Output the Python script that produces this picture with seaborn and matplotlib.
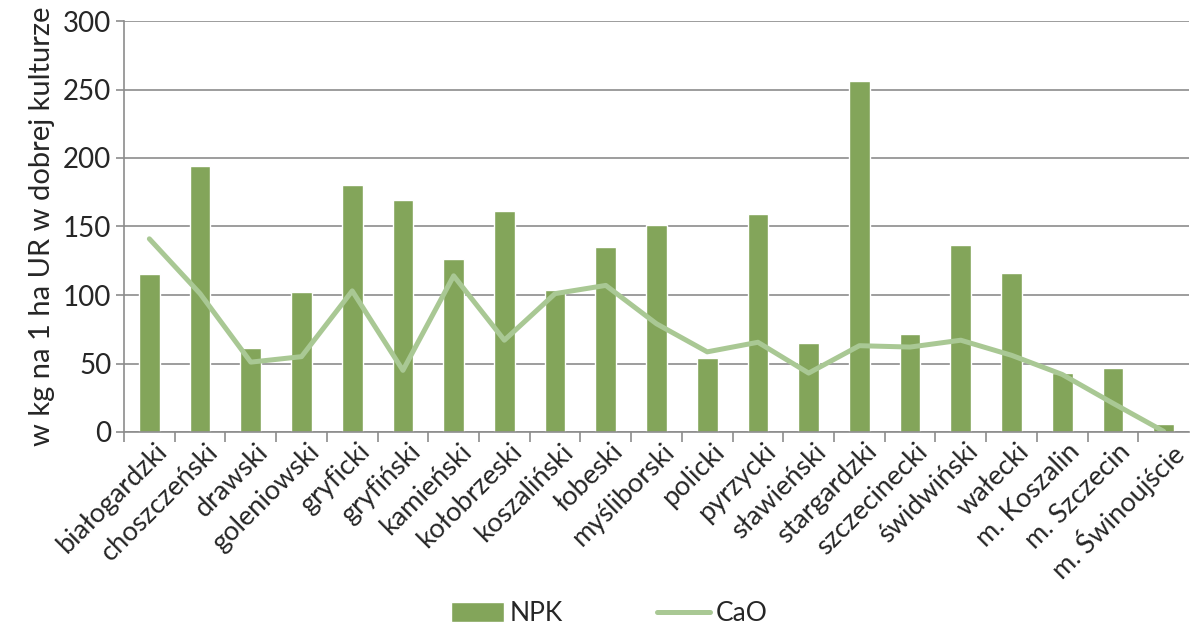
import numpy as np
import pandas as pd
import matplotlib
matplotlib.use("Agg")
import matplotlib.pyplot as plt
import matplotlib.transforms as mtransforms
import seaborn as sns
from matplotlib.patches import Patch
from matplotlib.lines import Line2D

powiaty = ["białogardzki", "choszczeński", "drawski", "goleniowski", "gryficki",
           "gryfiński", "kamieński", "kołobrzeski", "koszaliński", "łobeski",
           "myśliborski", "policki", "pyrzycki", "sławieński", "stargardzki",
           "szczecinecki", "świdwiński", "wałecki", "m. Koszalin", "m. Szczecin",
           "m. Świnoujście"]
npk = [115, 194, 61, 102, 180, 169, 126, 161, 104, 135,
       151, 54, 159, 65, 256, 71.5, 136.5, 116, 43, 47, 6]
cao = [141, 101, 51, 55, 103, 45, 114, 67, 101, 107,
       79, 58.5, 65.5, 43, 63, 62, 67, 56, 42, 21, 0.5]
y_ticks = [0, 50, 100, 150, 200, 250, 300]

bar_color = "#83A55A"
line_color = "#A9C894"
grid_color = "#8C8C8C"

sns.set_style("white")
plt.rcParams['font.family'] = ['Lato', 'DejaVu Sans']

df = pd.DataFrame({"powiat": powiaty, "NPK": npk, "CaO": cao, "pos": np.arange(len(powiaty))})

fig = plt.figure(figsize=(11.9, 6.25), dpi=100)
ax = fig.add_axes([124 / 1190, 1 - 432 / 625, 1065 / 1190, 411 / 625])

sns.barplot(data=df, x="powiat", y="NPK", color=bar_color, saturation=1, width=0.41, ax=ax)
sns.lineplot(data=df, x="pos", y="CaO", color=line_color, linewidth=3.6, ax=ax)

ax.set_ylim(0, 300)
ax.set_xlim(-0.5, len(powiaty) - 0.5)
ax.set_yticks(y_ticks)
ax.set_yticklabels([str(v) for v in y_ticks], fontsize=20)
ax.yaxis.grid(True, color=grid_color, linewidth=1.2)
ax.set_axisbelow(True)

ax.set_xticks(np.arange(len(powiaty)))
ax.set_xticklabels(powiaty, rotation=45, ha="right", rotation_mode="anchor", fontsize=19.5)
ax.set_xticks(np.arange(len(powiaty)) - 0.5, minor=True)
ax.tick_params(axis="x", which="major", length=0, pad=5)
ax.tick_params(axis="x", which="minor", length=7, color=grid_color, width=1.2, direction="out", bottom=True)
ax.tick_params(axis="y", length=6, color=grid_color, width=1.2, direction="out", left=True, pad=3)

# nudge rotated labels a little to the right like the original
shift = mtransforms.ScaledTranslation(5 / 100, 0, fig.dpi_scale_trans)
for lbl in ax.get_xticklabels():
    lbl.set_transform(lbl.get_transform() + shift)

ax.set_xlabel("")
ax.set_ylabel("w kg na 1 ha UR w dobrej kulturze", fontsize=21, labelpad=6)

for side in ["top", "right"]:
    ax.spines[side].set_visible(False)
for side in ["left", "bottom"]:
    ax.spines[side].set_color(grid_color)
    ax.spines[side].set_linewidth(1.2)

handles = [Patch(facecolor=bar_color, label="NPK"),
           Line2D([0], [0], color=line_color, linewidth=3.6, label="CaO")]
fig.legend(handles=handles, loc="lower center", bbox_to_anchor=(0.512, -0.04), ncol=2,
           frameon=False, fontsize=19, handlelength=2.0, handleheight=0.75,
           handletextpad=0.2, columnspacing=3.6)

fig.savefig("out.png", dpi=100)
